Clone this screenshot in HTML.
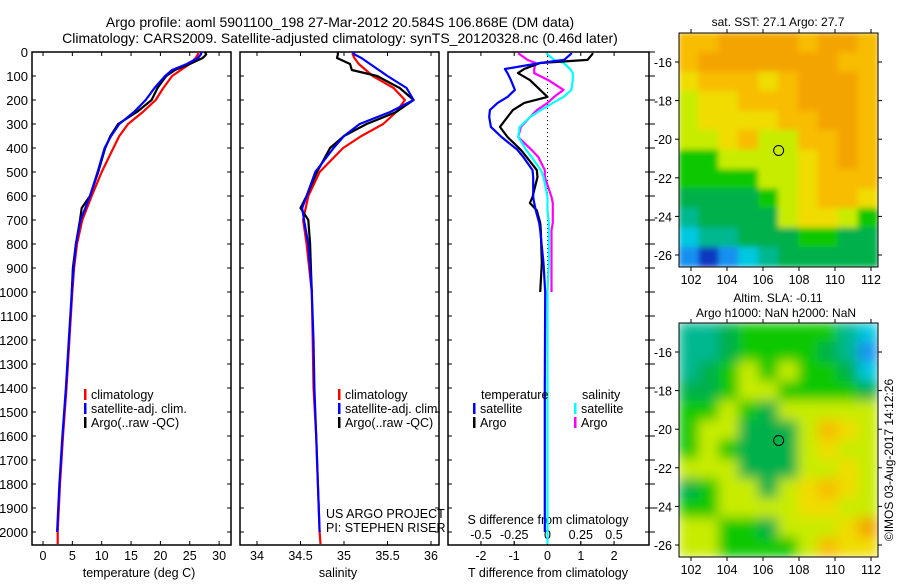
<!DOCTYPE html>
<html><head><meta charset="utf-8"><style>
body{margin:0;background:#fff;}
svg text{font-family:"Liberation Sans",sans-serif;fill:#000;}
</style></head><body>
<svg id="c" width="900" height="580" xmlns="http://www.w3.org/2000/svg">
<text x="340" y="27" font-size="14" text-anchor="middle">Argo profile: aoml 5901100_198 27-Mar-2012 20.584S 106.868E (DM data)</text>
<text x="340" y="43" font-size="14" text-anchor="middle">Climatology: CARS2009. Satellite-adjusted climatology: synTS_20120328.nc (0.46d later)</text>
<text x="778" y="26" font-size="12" text-anchor="middle">sat. SST: 27.1 Argo: 27.7</text>
<text x="778" y="302" font-size="12" text-anchor="middle">Altim. SLA: -0.11</text>
<text x="776" y="317" font-size="12" text-anchor="middle">Argo h1000: NaN h2000: NaN</text>
<text transform="translate(893,460) rotate(-90)" font-size="12" text-anchor="middle">©IMOS 03-Aug-2017 14:12:26</text>
<g id="g"></g>
</svg>
<script>
const depthsT=[0,10,25,50,75,100,150,200,250,300,350,400,500,600,650,700,800,900,1000,1200,1400,1600,1800,2000,2050];
const tempClim=[26.5,26.4,26,25,23.5,22,20.5,19.2,17,14.5,13,12,10,8.3,7.5,6.7,5.8,5.3,5.0,4.5,4.0,3.4,2.9,2.5,2.5];
const tempSat=[27,26.9,26.4,24.5,22,20.8,19,17.5,15.5,13,11.6,10.5,9.3,8,7.2,6.4,5.6,5.2,4.9,4.4,3.9,3.3,2.8,2.4,2.4];
const depthsA=[0,10,25,50,75,100,150,200,250,300,350,400,500,600,650,700,800,900,1000];
const tempArgo=[27.6,27.8,27.2,25,22.5,21,19.5,18.5,16,12.8,11.5,10.6,9.4,8,6.6,6.3,5.6,5.1,4.9];
const salClim=[35.1,35.1,35.12,35.17,35.25,35.33,35.57,35.7,35.6,35.45,35.2,34.99,34.72,34.59,34.56,34.53,34.57,34.6,34.63,34.64,34.65,34.68,34.7,34.72,34.73];
const salSat=[35.1,35.12,35.2,35.3,35.4,35.5,35.72,35.8,35.53,35.18,35.0,34.88,34.67,34.57,34.52,34.54,34.59,34.61,34.63,34.65,34.66,34.68,34.7,34.72,34.72];
const salArgo=[34.93,34.93,34.92,35.07,35.09,35.38,35.64,35.8,35.6,35.26,35.0,34.84,34.69,34.57,34.5,34.59,34.61,34.62,34.63];
const dDepths=[5,33,46,71,88,117,158,187,212,242,271,312,354,408,437,492,521,604,629,660,712,742,879,1000];
const dTSat=[0.73,0.5,-0.22,-1.28,-1.2,-1.1,-0.98,-1.2,-1.5,-1.73,-1.75,-1.7,-1.38,-0.9,-0.73,-0.45,-0.43,-0.43,-0.4,-0.35,-0.25,-0.22,-0.12,-0.07];
const dTArgo=[1.37,1.2,-0.22,-0.7,-0.89,-0.53,-0.22,0.0,-0.7,-1.04,-1.2,-1.43,-1.2,-0.8,-0.63,-0.32,-0.3,-0.45,-0.53,-0.32,-0.22,-0.2,-0.17,-0.22];
const dSSat=[-0.01,0.05,0.12,0.17,0.19,0.19,0.18,0.12,0.04,-0.05,-0.13,-0.21,-0.22,-0.16,-0.12,-0.05,-0.03,0,0,0,0.01,0.01,0.01,0.0];
const dSArgo=[-0.22,-0.15,-0.09,-0.1,-0.1,0.006,0.12,0.05,0,-0.08,-0.13,-0.2,-0.22,-0.12,-0.07,-0.02,-0.02,0.03,0.04,0.04,0.04,0.03,0.03,0.03];
const depthTicks=[0,100,200,300,400,500,600,700,800,900,1000,1100,1200,1300,1400,1500,1600,1700,1800,1900,2000];
const tTicks=[0,5,10,15,20,25,30];
const sTicks=[34,34.5,35,35.5,36];
const dtTicks=[-2,-1,0,1,2];
const dsTicks=[-0.5,-0.25,0,0.25,0.5];
const sstGrid=["ooOOOOoOOo","oOOOOOOOoo","YoooYoOOOo","yYYoooOOOo","yYYYYooOOo","yyYoyyooOo","GGyyyyYoOo","GGGGyyYooo","ggggGyYooY","TggggyYYyG","CTTgggGGgg","BDBCTggggg"];
const slaGrid=["TTgGGGGGTC","TTgGGGGgTB","TgGyGyGGgC","ggGyyGGGGg","GGyGgyyyyy","GyygggyoYy","GyGgggyYyy","yyygggyyYy","gGyygyYoYy","GGyyyyYYyy","yyGGgyyyYO","yyGGGGyoYY"];
const colorMap={O:"#f4a400",o:"#f8bc00",Y:"#f0dc00",y:"#c8ec00",G:"#10c800",g:"#00b04c",T:"#00b890",C:"#00c8e0",B:"#1890f0",D:"#0838c0"};

const NS="http://www.w3.org/2000/svg";
const G=document.getElementById('g');
function mk(tag,attrs,parent){const e=document.createElementNS(NS,tag);for(const k in attrs)e.setAttribute(k,attrs[k]);(parent||G).appendChild(e);return e;}
const Y0=52,Y1=545;
function yD(d){return Y0+d*0.24;}
function xT(t){return 43+t*5.87;}
function xS(s){return 257+(s-34)*87;}
function xDT(t){return 547.5+t*33.3;}
function xDS(s){return 547.5+s*133;}

function panel(x0,x1,name,ticks,fx,leftLabels){
  const box=mk('rect',{x:x0,y:Y0,width:x1-x0,height:Y1-Y0,fill:'none',stroke:'#000','stroke-width':1.5});
  
  
  depthTicks.forEach(d=>{
    const y=yD(d);
    const t=mk('line',{x1:x0,x2:x0+4,y1:y,y2:y,stroke:'#000'});
    
    
    const t2=mk('line',{x1:x1,x2:x1-4,y1:y,y2:y,stroke:'#000'});
    
    
    if(leftLabels){
      const l=mk('text',{x:x0-4,y:y+5,'font-size':13,'text-anchor':'end'});
      l.textContent=d;
      
      
    }
  });
  ticks.forEach(v=>{
    const x=fx(v);
    const a=mk('line',{x1:x,x2:x,y1:Y0,y2:Y0+4,stroke:'#000'});
    
    
    const b=mk('line',{x1:x,x2:x,y1:Y1,y2:Y1-4,stroke:'#000'});
    
    
  });
}
function line(vals,depths,fx,color,name){
  const pts=vals.map((v,i)=>fx(v).toFixed(1)+','+yD(depths[i]).toFixed(1)).join(' ');
  const p=mk('polyline',{points:pts,fill:'none',stroke:color,'stroke-width':2.2,'stroke-linejoin':'round'});
  
  
}
function legend(x,y,color,label,name){
  const m=mk('rect',{x:x,y:y-9,width:2.5,height:11,fill:color});
  
  
  const t=mk('text',{x:x+7,y:y+1,'font-size':12.5});
  t.textContent=label;
  
  
}
function txt(x,y,s,name,anchor,size){
  const t=mk('text',{x:x,y:y,'font-size':size||12.5,'text-anchor':anchor||'start'});
  t.textContent=s;
  
  
}

// Panel 1 temperature
panel(32,231,'temperature-panel',tTicks,xT,true);
tTicks.forEach(v=>txt(xT(v),560,String(v),'temperature-tick-label','middle'));
txt(139,577,'temperature (deg C)','temperature-axis-title','middle');
line(tempClim,depthsT,xT,'#ff0000','temperature-climatology-line');
line(tempArgo,depthsA,xT,'#000000','temperature-argo-line');
line(tempSat.slice(0,24),depthsT.slice(0,24),xT,'#0000ff','temperature-satellite-line');
legend(84,398,'#ff0000','climatology','temperature-legend-climatology');
legend(84,412,'#0000ff','satellite-adj. clim.','temperature-legend-satellite');
legend(84,426,'#000000','Argo(..raw -QC)','temperature-legend-argo');

// Panel 2 salinity
panel(240,439,'salinity-panel',sTicks,xS,false);
sTicks.forEach(v=>txt(xS(v),560,String(v),'salinity-tick-label','middle'));
txt(338,577,'salinity','salinity-axis-title','middle');
line(salClim,depthsT,xS,'#ff0000','salinity-climatology-line');
line(salArgo,depthsA,xS,'#000000','salinity-argo-line');
line(salSat.slice(0,24),depthsT.slice(0,24),xS,'#0000ff','salinity-satellite-line');
legend(338,398,'#ff0000','climatology','salinity-legend-climatology');
legend(338,412,'#0000ff','satellite-adj. clim.','salinity-legend-satellite');
legend(338,426,'#000000','Argo(..raw -QC)','salinity-legend-argo');
txt(326,518,'US ARGO PROJECT','project-credit');
txt(326,532,'PI: STEPHEN RISER','pi-credit');

// Panel 3 differences
panel(448,649,'difference-panel',dtTicks,xDT,false);
depthTicks.forEach(d=>{const t=mk('line',{x1:649,x2:655,y1:yD(d),y2:yD(d),stroke:'#000'});
  
  });
dsTicks.forEach(v=>{const x=xDS(v);const a=mk('line',{x1:x,x2:x,y1:Y1,y2:Y1-4,stroke:'#000'});
  
  });
const zl=mk('line',{x1:xDT(0),x2:xDT(0),y1:Y0,y2:Y1,stroke:'#000','stroke-dasharray':'1,3'});


dsTicks.forEach(v=>txt(xDS(v),539,v===0?'0':(v<0?'-':'')+String(Math.abs(v)),'s-diff-tick-label','middle'));
dtTicks.forEach(v=>txt(xDT(v),560,v<0?'-'+Math.abs(v):String(v),'t-diff-tick-label','middle'));
txt(548,524,'S difference from climatology','s-diff-axis-title','middle');
txt(548,577,'T difference from climatology','t-diff-axis-title','middle');
line(dSArgo,dDepths,xDS,'#ff00ff','s-diff-argo-line');
line(dSSat.concat([0.0,0.0,0.0]),dDepths.concat([1400,2000,2050]),xDS,'#00ffff','s-diff-satellite-line');
line(dTArgo,dDepths,xDT,'#000000','t-diff-argo-line');
line(dTSat.concat([-0.08,-0.08]),dDepths.concat([1400,2000]),xDT,'#0000ff','t-diff-satellite-line');
txt(481,399,'temperature','diff-legend-temperature-heading');
txt(582,399,'salinity','diff-legend-salinity-heading');
legend(473,412,'#0000ff','satellite','diff-legend-t-satellite');
legend(473,426,'#000000','Argo','diff-legend-t-argo');
legend(574,412,'#00ffff','satellite','diff-legend-s-satellite');
legend(574,426,'#ff00ff','Argo','diff-legend-s-argo');

// Maps
function xLon(l){return 691+(l-102)*18;}
function map(y0,grid,name,blur){
  const top=y0, h=234, X0=679, W=199;
  const cw=W/grid[0].length, ch=h/grid.length;
  const cl=mk('clipPath',{id:name+'-clip'});
  mk('rect',{x:X0,y:top,width:W,height:h},cl);
  const gg=mk('g',{'clip-path':'url(#'+name+'-clip)'});
  
  
  const inner=mk('g',{filter:blur?'url(#bl)':'url(#bl2)'},gg);
  grid.forEach((row,r)=>{[...row].forEach((c,k)=>{
    const cell=mk('rect',{x:X0+k*cw-0.5,y:top+r*ch-0.5,width:cw+1,height:ch+1,fill:colorMap[c]},inner);
    
    
  });});
  const f=mk('rect',{x:X0,y:top,width:W,height:h,fill:'none',stroke:'#000','stroke-width':1});
  
  
  [102,104,106,108,110,112].forEach(l=>{
    const t=mk('line',{x1:xLon(l),x2:xLon(l),y1:top+h,y2:top+h+4,stroke:'#000'});
    
    
    mk('line',{x1:xLon(l),x2:xLon(l),y1:top,y2:top-4,stroke:'#000'});
    txt(xLon(l),top+h+17,String(l),name+'-lon-label','middle');
  });
  [-16,-18,-20,-22,-24,-26].forEach(la=>{
    const y=top+29+(-16-la)*19.3;
    const t=mk('line',{x1:X0-4,x2:X0,y1:y,y2:y,stroke:'#000'});
    
    
    mk('line',{x1:X0+W,x2:X0+W+4,y1:y,y2:y,stroke:'#000'});
    txt(X0-7,y+5,String(la),name+'-lat-label','end');
  });
  const ci=mk('circle',{cx:xLon(106.868),cy:top+29+(20.584-16)*19.3,r:5,fill:'none',stroke:'#000','stroke-width':1});
  
  
}
const defs=mk('defs',{});
const fl=mk('filter',{id:'bl',x:'0',y:'0',width:'100%',height:'100%'},defs);
mk('feGaussianBlur',{stdDeviation:6,edgeMode:'duplicate'},fl);
const fl2=mk('filter',{id:'bl2',x:'0',y:'0',width:'100%',height:'100%'},defs);
mk('feGaussianBlur',{stdDeviation:3,edgeMode:'duplicate'},fl2);
map(33,sstGrid,'sst-map',false);
map(323,slaGrid,'sla-map',true);
</script>
</body></html>
